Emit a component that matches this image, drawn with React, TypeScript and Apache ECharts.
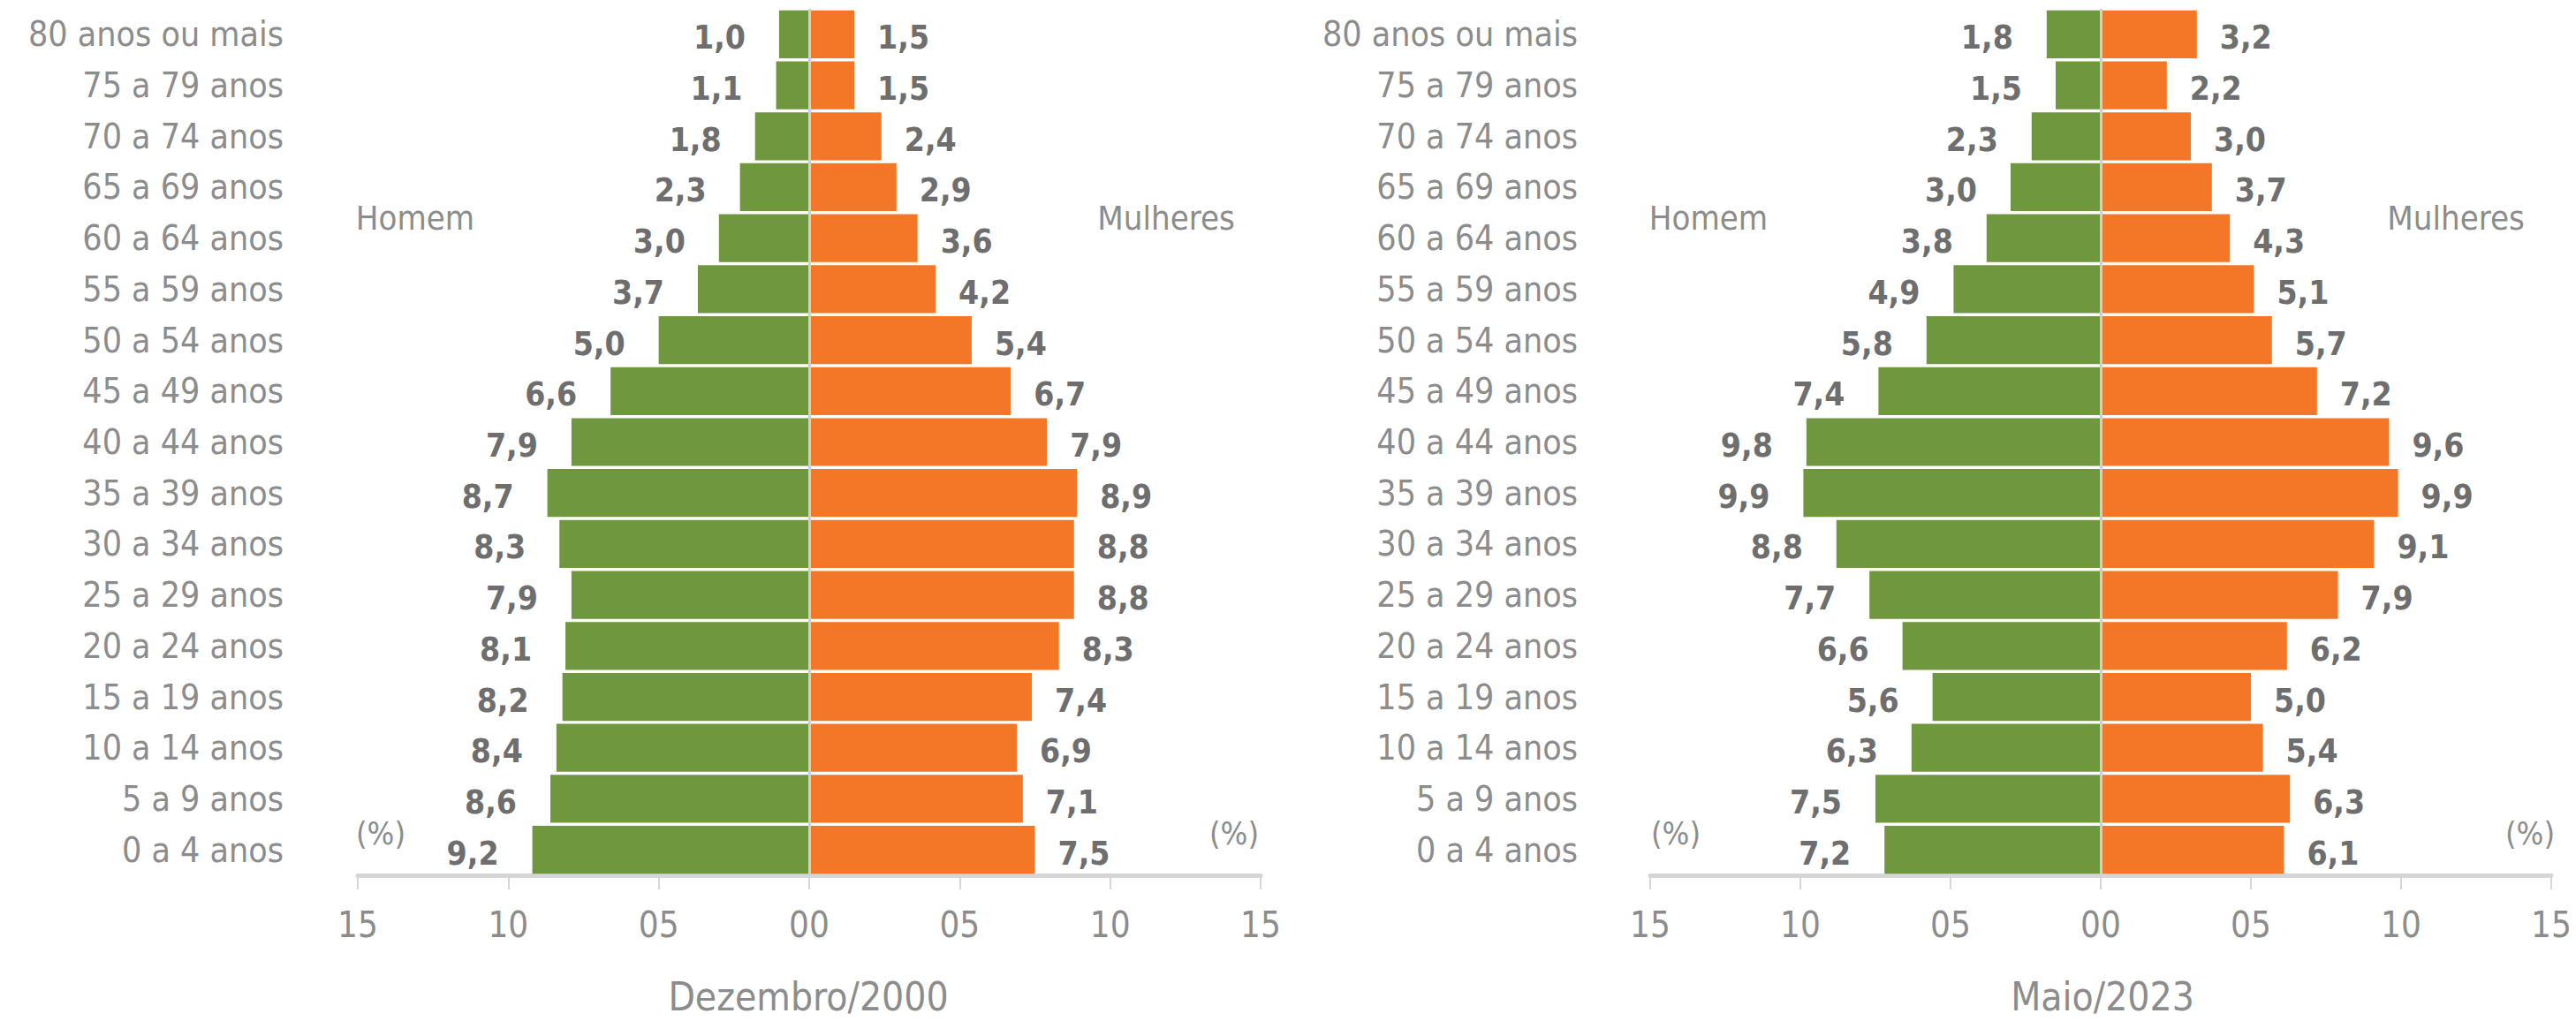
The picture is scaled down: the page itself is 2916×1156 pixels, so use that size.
import React, { useEffect, useRef } from "react";
import * as echarts from "echarts";

const categories = [
  "0 a 4 anos", "5 a 9 anos", "10 a 14 anos", "15 a 19 anos", "20 a 24 anos",
  "25 a 29 anos", "30 a 34 anos", "35 a 39 anos", "40 a 44 anos", "45 a 49 anos",
  "50 a 54 anos", "55 a 59 anos", "60 a 64 anos", "65 a 69 anos", "70 a 74 anos",
  "75 a 79 anos", "80 anos ou mais",
];
const male2000 = [9.2, 8.6, 8.4, 8.2, 8.1, 7.9, 8.3, 8.7, 7.9, 6.6, 5.0, 3.7, 3.0, 2.3, 1.8, 1.1, 1.0];
const female2000 = [7.5, 7.1, 6.9, 7.4, 8.3, 8.8, 8.8, 8.9, 7.9, 6.7, 5.4, 4.2, 3.6, 2.9, 2.4, 1.5, 1.5];
const male2023 = [7.2, 7.5, 6.3, 5.6, 6.6, 7.7, 8.8, 9.9, 9.8, 7.4, 5.8, 4.9, 3.8, 3.0, 2.3, 1.5, 1.8];
const female2023 = [6.1, 6.3, 5.4, 5.0, 6.2, 7.9, 9.1, 9.9, 9.6, 7.2, 5.7, 5.1, 4.3, 3.7, 3.0, 2.2, 3.2];
const panelTitles = ["Dezembro/2000", "Maio/2023"];
const maleLabel = "Homem";
const femaleLabel = "Mulheres";
const unitLabel = "(%)";

const FONT = "'Liberation Sans Narrow', 'Arial Narrow', 'DejaVu Sans Condensed', sans-serif";
const GREEN = "#6f973d";
const ORANGE = "#f37726";
const LABEL_GRAY = "#8c8c8c";
const VALUE_GRAY = "#6e6e6e";
const AXIS_GRAY = "#d6d6d6";

const fmt = (v: number) => Math.abs(v).toFixed(1).replace(".", ",");

export default function App() {
  const ref = useRef<HTMLDivElement>(null);
  useEffect(() => {
    if (!ref.current) return;
    const chart = echarts.init(ref.current, undefined, { renderer: "svg" });
    const grids = [
      { left: 405, width: 1022, top: 10, height: 981 },
      { left: 1868, width: 1020, top: 10, height: 981 },
    ];
    const data = [
      [male2000, female2000],
      [male2023, female2023],
    ];
    const xAxis = grids.map((_, i) => ({
      type: "value",
      gridIndex: i,
      min: -15,
      max: 15,
      interval: 5,
      axisLine: { show: true, lineStyle: { color: AXIS_GRAY, width: 5 } },
      axisTick: { show: true, length: 16, lineStyle: { color: AXIS_GRAY, width: 2 } },
      axisLabel: {
        margin: 36,
        color: LABEL_GRAY,
        fontFamily: FONT,
        fontSize: 40,
        formatter: (v: number) => String(Math.abs(v)).padStart(2, "0"),
      },
      splitLine: { show: false },
    }));
    const yAxis = grids.map((_, i) => ({
      type: "category",
      gridIndex: i,
      data: categories,
      axisLine: { show: false },
      axisTick: { show: false },
      axisLabel: {
        margin: i === 0 ? 84 : 82,
        color: LABEL_GRAY,
        fontFamily: FONT,
        fontSize: 39,
      },
    }));
    const series: any[] = [];
    data.forEach(([m, f], i) => {
      series.push({
        type: "bar",
        name: maleLabel,
        xAxisIndex: i,
        yAxisIndex: i,
        stack: "p" + i,
        barCategoryGap: "6%",
        data: m.map((v) => -v),
        itemStyle: { color: GREEN },
        label: {
          show: true,
          position: "left",
          distance: 38,
          offset: [0, 4],
          formatter: (p: any) => fmt(p.value),
          color: VALUE_GRAY,
          fontFamily: FONT,
          fontWeight: "bold",
          fontSize: 37,
        },
        markLine: {
          silent: true,
          symbol: "none",
          label: { show: false },
          lineStyle: { color: "#cfcfcf", width: 3, type: "solid" },
          data: [{ xAxis: 0 }],
        },
      });
      series.push({
        type: "bar",
        name: femaleLabel,
        xAxisIndex: i,
        yAxisIndex: i,
        stack: "p" + i,
        barCategoryGap: "6%",
        data: f,
        itemStyle: { color: ORANGE },
        label: {
          show: true,
          position: "right",
          distance: 26,
          offset: [0, 4],
          formatter: (p: any) => fmt(p.value),
          color: VALUE_GRAY,
          fontFamily: FONT,
          fontWeight: "bold",
          fontSize: 37,
        },
      });
    });
    const txt = (text: string, x: number, y: number, size: number) => ({
      type: "text",
      x,
      y,
      style: {
        text,
        fill: LABEL_GRAY,
        font: `${size}px ${FONT}`,
        textAlign: "center",
        textVerticalAlign: "middle",
      },
    });
    const graphic = [
      txt(maleLabel, 470, 247, 38),
      txt(femaleLabel, 1320, 247, 38),
      txt(maleLabel, 1934, 247, 38),
      txt(femaleLabel, 2780, 247, 38),
      txt(unitLabel, 431, 943, 36),
      txt(unitLabel, 1397, 943, 36),
      txt(unitLabel, 1897, 943, 36),
      txt(unitLabel, 2864, 943, 36),
      txt(panelTitles[0], 915, 1128, 44),
      txt(panelTitles[1], 2380, 1128, 44),
    ];
    chart.setOption({
      animation: false,
      backgroundColor: "#ffffff",
      grid: grids,
      xAxis,
      yAxis,
      series,
      graphic,
    });
    return () => chart.dispose();
  }, []);
  return (
    <div
      ref={ref}
      style={{ position: "fixed", left: 0, top: 0, width: 2916, height: 1156 }}
    />
  );
}
